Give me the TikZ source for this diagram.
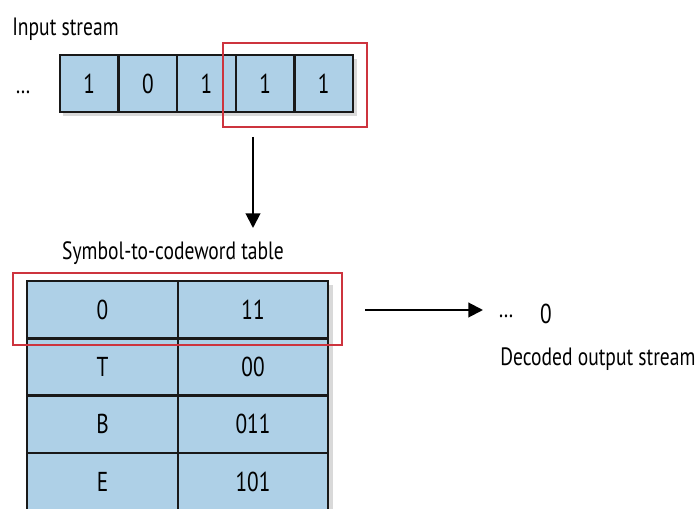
\documentclass[tikz,border=0pt]{standalone}
\usepackage{fontspec}
\setmainfont{PT Sans}[FakeStretch=0.78]
\usetikzlibrary{arrows.meta}

\definecolor{cellblue}{RGB}{174,208,231}
\definecolor{markred}{RGB}{205,52,62}
\definecolor{shadowgray}{RGB}{160,160,160}

\begin{document}
\begin{tikzpicture}[x=0.75pt, y=-0.75pt,
    cell/.style={rectangle, draw=black!90, line width=1.9pt, fill=cellblue, inner sep=0pt,
      font=\fontsize{20.5}{24}\selectfont},
    highlight/.style={rectangle, draw=markred, line width=1.5pt, inner sep=0pt},
    caption/.style={font=\fontsize{18.8}{22}\selectfont, inner sep=0pt},
    flow/.style={line width=1.5pt, -{Triangle[width=11pt, length=11pt]}}]
  \clip (0,0) rectangle (696,509);
  \useasboundingbox (0,0) rectangle (696,509);

  % input stream
  \node[caption, anchor=west] (inlabel) at (12,29) {Input stream};
  \node[caption, anchor=base] (indots) at (23,94) {…};
  \fill[shadowgray, opacity=0.4] (63,59) rectangle (357,116);
  \foreach \v [count=\i] in {1,0,1,1,1}
    \node[cell, minimum width=43.95pt, minimum height=42.75pt] (in\i) at ({60+58.6*(\i-0.5)},83.5) {\v};
  \node[highlight, minimum width=108pt, minimum height=63pt] (sel) at (295,85) {};

  \coordinate (down1) at (253,137);
  \coordinate (down2) at (253,228);
  \draw[flow] (down1) -- (down2);

  % table
  \node[caption] (tablelabel) at (173,253) {Symbol-to-codeword table};
  \fill[shadowgray, opacity=0.4] (31,285) rectangle (333,512);
  \foreach \s/\c [count=\r] in {0/11, T/00, B/011, E/101} {
    \node[cell, minimum width=113.25pt, minimum height=43pt] (sym\r) at (102.5,{281+57.3*(\r-0.5)}) {\s};
    \node[cell, minimum width=112.5pt, minimum height=43pt] (code\r) at (253,{281+57.3*(\r-0.5)}) {\c};
  }
  \node[highlight, minimum width=246.75pt, minimum height=54pt] (row) at (177.5,309) {};

  \coordinate (right1) at (365,310);
  \coordinate (right2) at (483,310);
  \draw[flow] (right1) -- (right2);

  % output
  \node[caption, anchor=base] (outdots) at (506,318) {…};
  \node[caption, font=\fontsize{20.5}{24}\selectfont] (outzero) at (546,314) {0};
  \node[caption, anchor=west] (outlabel) at (500,359) {Decoded output stream};
\end{tikzpicture}
\end{document}
